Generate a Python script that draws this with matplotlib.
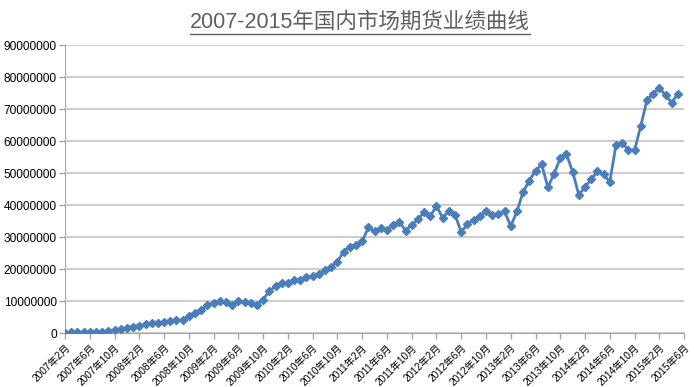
import matplotlib
matplotlib.use("Agg")
import matplotlib.pyplot as plt  # noqa: E402
from matplotlib.lines import Line2D  # noqa: E402

plt.rcParams["font.family"] = ["Liberation Sans", "Noto Sans CJK SC", "DejaVu Sans"]

TITLE = "2007-2015年国内市场期货业绩曲线"

# monthly performance, 2007-02 .. 2015-05, in millions
values_m = [
    0.15, 0.2, 0.25, 0.3, 0.3, 0.35, 0.45, 0.6, 0.8, 1.1,
    1.6, 2.0, 2.3, 2.9, 3.0, 3.1, 3.5, 3.85, 3.95, 4.0,
    5.4, 6.1, 7.1, 8.8, 9.5, 9.9, 9.7, 8.8, 9.9, 9.8,
    9.4, 8.8, 10.4, 13.2, 14.6, 15.5, 15.7, 16.6, 16.5, 17.5,
    17.8, 18.4, 19.7, 20.7, 22.3, 25.4, 27.0, 27.4, 28.6, 33.0,
    31.8, 32.7, 32.2, 33.7, 34.8, 32.0, 33.8, 35.5, 37.7, 36.5,
    39.7, 36.0, 38.1, 37.0, 31.5, 34.1, 35.4, 36.5, 38.1, 36.9,
    37.2, 38.0, 33.4, 38.0, 44.1, 47.6, 50.7, 52.7, 45.5, 49.8,
    54.6, 55.9, 50.4, 43.1, 45.7, 48.0, 50.6, 49.6, 47.2, 58.75,
    59.5, 57.2, 57.1, 64.7, 72.7, 74.8, 76.7, 74.3, 72.0, 74.8,
]
values = [v * 1e6 for v in values_m]

# axis labels every 4 months
tick_labels = [f"{y}年{m}月" for y in range(2007, 2016) for m in (2, 6, 10)][:26]
y_ticks = list(range(0, 90000001, 10000000))

fig = plt.figure(figsize=(6.94, 3.87), dpi=100)
ax = fig.add_axes([0.0937, 0.1395, 0.892, 0.7442])

x = list(range(len(values)))
ax.plot(x, values, color="#4A7EBB", lw=2.0, marker="D", ms=4.4,
        mec="#4A7EBB", mfc="#4A7EBB", zorder=3)

ax.set_xlim(0, 100)
ax.set_ylim(0, 90000000)
ax.set_yticks(y_ticks)
ax.set_yticklabels([str(v) for v in y_ticks], fontsize=8.6)
ax.set_xticks(range(0, 101, 4))
ax.set_xticklabels(tick_labels, fontsize=7.3, rotation=45, ha="right",
                   rotation_mode="anchor")
ax.grid(axis="y", color="#BFBFBF", lw=1.1)
ax.set_axisbelow(True)
for s in ("top", "right"):
    ax.spines[s].set_visible(False)
ax.spines["left"].set_color("#A6A6A6")
ax.spines["bottom"].set_color("#A6A6A6")
ax.tick_params(axis="both", color="#A6A6A6", length=4, width=1, pad=2)
ax.tick_params(axis="x", pad=3)

title = fig.text(0.519, 0.943, TITLE, ha="center", va="center",
                 fontsize=15.5, color="#5F5F5F")

# underline the title
fig.canvas.draw()
bb = title.get_window_extent().transformed(fig.transFigure.inverted())
uy = bb.y0 - 0.003
fig.add_artist(Line2D([bb.x0, bb.x1], [uy, uy], color="#5F5F5F", lw=1.0,
                      transform=fig.transFigure))

fig.savefig("out.png", dpi=100)
plt.close(fig)
